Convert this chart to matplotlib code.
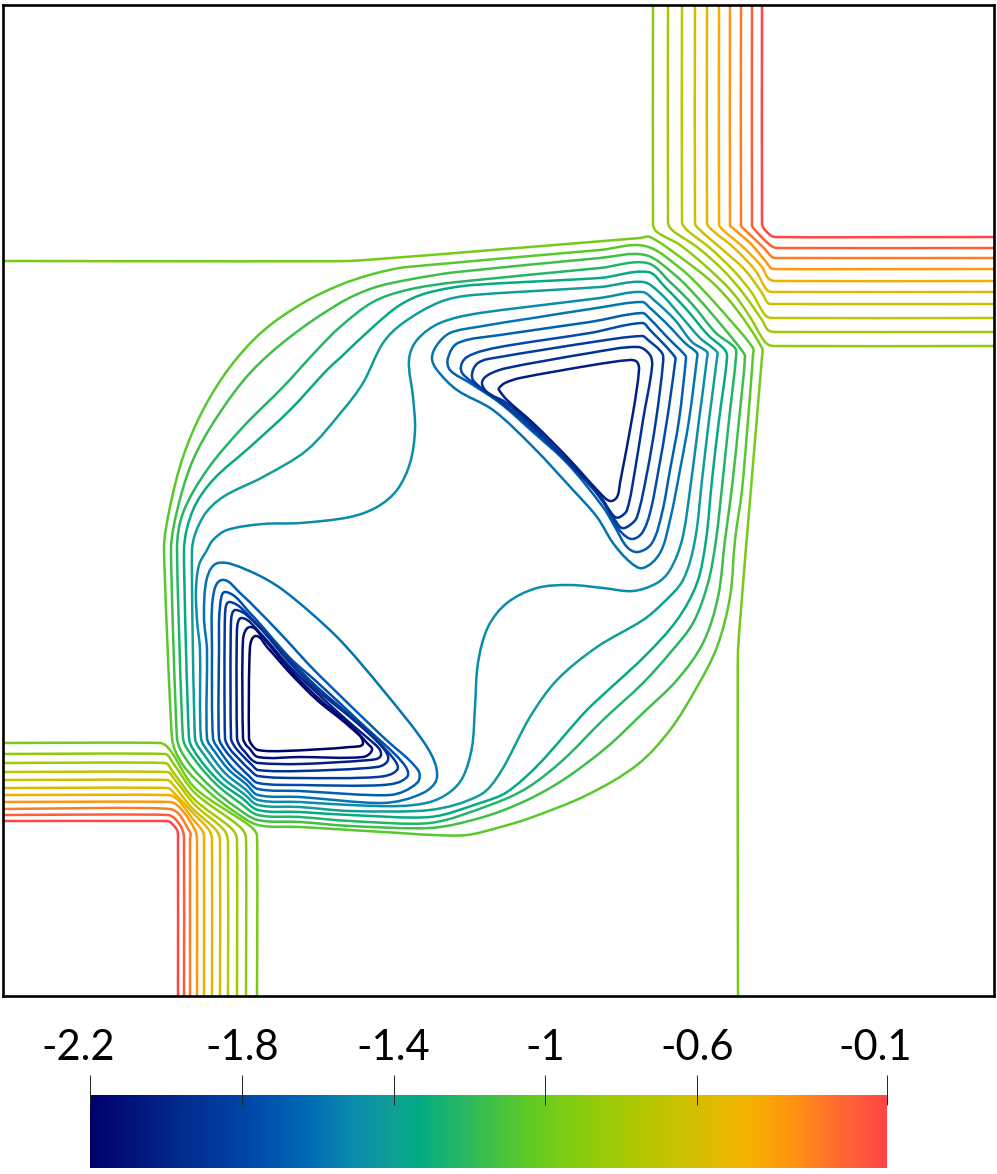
#!/usr/bin/env python

import numpy as np
import matplotlib
matplotlib.use("Agg")
import matplotlib.pyplot as plt
from matplotlib.cm import ScalarMappable
from matplotlib.colors import LinearSegmentedColormap, Normalize
from matplotlib.patches import PathPatch
from matplotlib.path import Path

# Contour levels, from the colour bar range
levels = [-0.1, -0.1875, -0.275, -0.3625, -0.45, -0.5375, -0.625, -0.7125, -0.8, -0.8875,
          -0.975, -1.0625, -1.15, -1.2375, -1.325, -1.4125, -1.5, -1.5875, -1.675, -1.7625,
          -1.85, -1.9375, -2.025, -2.1125, -2.2]

bar_ticks = [-2.2, -1.8, -1.4, -1.0, -0.6, -0.1]
bar_labels = ["-2.2", "-1.8", "-1.4", "-1", "-0.6", "-0.1"]

cmap_stops = [0.0, 0.1, 0.2, 0.27, 0.33, 0.38, 0.41, 0.47, 0.55, 0.6, 0.7, 0.78, 0.83, 0.88, 0.94, 1.0]
cmap_colors = ["#00006a", "#02268a", "#0048a8", "#0068b4", "#0a8cac", "#109f94", "#00aa85", "#2ab860",
               "#5eca25", "#80cc10", "#b5c800", "#ddbb00", "#f5b000", "#ff9510", "#ff6a30", "#ff4545"]

# Contours, as (x, y) pixels inside the frame
# Upper right corner, red outwards to green
ur_00 = [(762,5),(762,223),(765,230),(775,237),(994,237)]
ur_01 = [(752,5),(752,225),(755,230),(770,245),(777,248),(994,248)]
ur_02 = [(741,5),(741,225),(745,230),(763,247),(772,257),(777,258),(994,258)]
ur_03 = [(730,5),(730,225),(734,229),(752,245),(767,263),(773,269),(994,269)]
ur_04 = [(719,5),(719,224),(723,230),(743,247),(762,267),(768,278),(775,281),(994,281)]
ur_05 = [(707,5),(707,223),(712,230),(733,247),(755,270),(767,290),(773,292),(994,292)]
ur_06 = [(695,5),(695,223),(700,230),(723,250),(745,270),(762,293),(768,303),(774,304),(994,304)]
ur_07 = [(682,5),(682,222),(687,230),(710,248),(733,270),(752,293),(765,315),(772,318),(994,318)]
ur_08 = [(668,5),(668,222),(672,230),(697,247),(723,270),(743,293),(762,320),(768,330),(775,332),(994,332)]
ur_09 = [(653,5),(653,224),(657,232),(680,245),(710,270),(733,293),(750,317),(765,342),(773,346),(994,346)]

# Lower left corner, red outwards to green
ll_00 = [(3,821),(165,821),(170,822),(177,830),(178,837),(178,996)]
ll_01 = [(3,815),(168,815),(180,825),(184,838),(184,996)]
ll_02 = [(3,809),(170,809),(190,832),(190,840),(190,996)]
ll_03 = [(3,802),(170,802),(182,810),(195,830),(197,840),(197,996)]
ll_04 = [(3,795),(168,795),(178,800),(192,818),(203,832),(204,842),(204,996)]
ll_05 = [(3,788),(167,788),(176,795),(192,812),(209,830),(212,840),(212,996)]
ll_06 = [(3,780),(167,780),(175,787),(192,808),(216,830),(220,840),(220,996)]
ll_07 = [(3,772),(167,772),(175,780),(195,805),(224,830),(228,842),(228,996)]
ll_08 = [(3,763),(165,763),(173,772),(195,800),(232,829),(237,840),(237,996)]
ll_09 = [(3,754),(165,754),(173,763),(195,793),(240,827),(246,838),(246,996)]
ll_10 = [(3,743),(160,743),(170,750),(195,788),(250,826),(257,836),(257,996)]

# The long line from the left edge to the bottom edge
long_10 = [(3,261),(350,261),(640,238),(650,237),(680,257),(713,283),(737,310),(762,348),(762,357),
           (738,650),(738,996)]

# Closed lines round both triangles
both_11 = [(164,550),(170,507),(183,457),(203,410),(230,367),(263,331),(303,303),(340,285),(373,274),(407,267),
           (600,250),(645,246),(680,268),(703,290),(730,320),(753,348),(753,355),(748,420),(742,490),(735,540),
           (730,597),(717,647),(697,687),(670,730),(637,765),(587,795),(530,818),(497,828),(467,835),(433,835),
           (400,833),(350,830),(300,827),(258,825),(235,812),(210,793),(183,765),(172,738)]
both_12 = [(171,550),(178,507),(193,460),(217,417),(250,373),(290,337),(340,303),(373,288),(407,280),(457,272),
           (600,258),(645,255),(675,275),(697,297),(723,327),(743,352),(745,357),(739,420),(732,487),(725,540),
           (718,597),(703,643),(677,680),(643,713),(607,747),(563,780),(523,802),(480,818),(430,828),
           (350,826),(300,822),(258,820),(237,808),(213,789),(188,762),(177,738)]
both_13 = [(177,550),(183,513),(207,470),(243,427),(283,387),(317,350),(340,327),(373,302),(407,290),(457,282),
           (600,268),(647,263),(670,282),(692,304),(716,333),(735,348),(736,357),(729,420),(722,487),(716,540),
           (708,583),(693,623),(670,653),(643,683),(603,720),(563,760),(527,788),(490,805),(430,823),
           (350,821),(300,817),(258,815),(240,803),(217,785),(195,760),(183,738)]
both_14 = [(184,550),(193,510),(213,480),(250,447),(290,410),(327,370),(340,358),(373,327),(400,305),(427,293),
           (473,285),(600,278),(648,272),(665,287),(687,310),(708,335),(725,350),(727,358),(719,420),(712,480),
           (706,540),(697,583),(677,620),(643,658),(587,710),(540,763),(507,792),(480,803),(430,817),
           (350,815),(300,812),(258,810),(242,798),(220,782),(199,758),(189,738)]
both_15 = [(192,550),(203,517),(223,497),(263,477),(307,450),(343,410),(363,383),(383,343),(403,323),(440,302),
           (473,295),(600,287),(643,282),(660,293),(680,315),(700,338),(717,352),(717,358),(709,420),(702,480),
           (695,540),(683,580),(663,603),(643,620),(597,647),(557,680),(530,717),(500,773),(480,795),(430,810),
           (350,811),(300,807),(258,805),(244,794),(223,778),(205,756),(195,738)]
both_16 = [(207,550),(213,540),(227,530),(263,524),(300,523),(350,517),(377,507),(397,490),(410,463),(415,430),
           (413,397),(409,360),(417,340),(440,323),(480,313),(600,298),(642,292),(655,301),(675,320),(692,342),
           (707,352),(707,358),(699,420),(690,490),(682,540),(670,570),(657,583),(633,591),(603,588),(570,585),
           (537,588),(507,603),(488,627),(478,663),(475,707),(472,747),(463,777),(450,792),(430,802),(400,806),
           (350,805),(300,802),(258,800),(245,789),(226,774),(210,754),(201,738),(200,650),(197,620),(196,590),
           (199,565)]

# Closed lines round the upper right triangle
up_17 = [(437,370),(432,358),(437,345),(450,333),(477,327),(533,318),(597,308),(642,302),(650,308),(668,325),
         (685,343),(697,353),(697,358),(689,420),(680,470),(670,520),(660,553),(643,568),(630,562),(613,543),
         (597,517),(573,490),(533,447),(493,410),(457,390)]
up_18 = [(448,358),(458,343),(500,335),(590,322),(642,313),(650,319),(668,338),(685,355),(686,358),(679,420),
         (670,470),(662,513),(652,543),(638,552),(627,547),(615,527),(603,507),(567,463),(533,432),(500,403),
         (470,383),(450,370)]
up_19 = [(461,370),(467,357),(500,347),(590,333),(642,323),(650,330),(675,357),(675,363),(667,420),(658,473),
         (650,513),(642,533),(632,539),(622,533),(613,520),(600,497),(565,460),(533,430),(500,402),(472,382)]
up_20 = [(472,377),(478,363),(500,357),(593,342),(642,336),(648,340),(662,353),(663,363),(656,420),(647,473),
         (637,517),(630,525),(622,528),(615,520),(603,500),(590,483),(533,428),(500,401),(480,387)]
up_21 = [(482,383),(488,375),(507,368),(590,353),(638,347),(650,355),(652,367),(643,420),(635,470),(627,510),
         (620,517),(615,517),(607,507),(590,485),(533,426),(505,402),(488,393)]
up_22 = [(499,388),(505,383),(520,378),(593,365),(630,360),(637,362),(639,370),(633,413),(620,483),(617,497),
         (610,501),(600,493),(567,457),(533,423),(507,400),(499,390)]

# Closed lines round the lower left triangle
low_17 = [(218,563),(207,578),(204,617),(207,650),(207,738),(215,752),(229,770),(246,784),(258,795),(300,797),
          (383,803),(423,793),(437,777),(427,747),(383,690),(337,637),(283,590),(247,570)]
low_18 = [(222,580),(213,597),(212,650),(213,738),(220,751),(232,767),(247,780),(258,789),(300,791),(390,795),
          (417,783),(418,770),(383,737),(317,673),(277,630),(240,593)]
low_19 = [(226,592),(220,607),(219,650),(219,738),(225,750),(236,763),(248,775),(258,783),(300,785),(383,785),
          (407,777),(403,763),(363,725),(317,682),(290,658),(250,613)]
low_20 = [(230,602),(225,615),(225,738),(230,749),(239,759),(250,770),(258,776),(300,778),(377,777),(397,770),
          (393,758),(363,727),(317,687),(290,660),(253,620)]
low_21 = [(236,610),(231,622),(231,738),(235,747),(242,755),(252,765),(258,770),(300,771),(377,767),(388,760),
          (383,748),(357,723),(317,690),(290,663),(257,625)]
low_22 = [(242,618),(237,630),(237,738),(240,746),(245,752),(252,760),(258,763),(300,764),(370,760),(380,757),
          (380,750),(370,740),(350,723),(317,693),(290,667),(260,633)]
low_23 = [(250,627),(243,640),(243,738),(246,745),(249,748),(258,757),(300,757),(363,757),(372,750),(367,743),
          (350,725),(317,697),(290,670),(263,638)]
low_24 = [(256,636),(250,647),(249,738),(252,745),(258,750),(283,751),(350,747),(363,743),(350,727),(317,700),
          (290,673),(267,647)]

open_lines = [(0,ur_00),(1,ur_01),(2,ur_02),(3,ur_03),(4,ur_04),(5,ur_05),(6,ur_06),(7,ur_07),(8,ur_08),(9,ur_09),
              (0,ll_00),(1,ll_01),(2,ll_02),(3,ll_03),(4,ll_04),(5,ll_05),(6,ll_06),(7,ll_07),(8,ll_08),(9,ll_09),
              (10,ll_10),(10,long_10)]
closed_lines = [(11,both_11),(12,both_12),(13,both_13),(14,both_14),(15,both_15),(16,both_16),
                (17,up_17),(18,up_18),(19,up_19),(20,up_20),(21,up_21),(22,up_22),
                (17,low_17),(18,low_18),(19,low_19),(20,low_20),(21,low_21),(22,low_22),(23,low_23),(24,low_24)]

W, H = 997, 1174
LW = 1.8
MAX_HANDLE = 20  # px, keeps long straight stretches straight

def fig_rect(x0, y0, x1, y1):
  # pixel box of the picture -> figure fractions
  return [x0/W, (H-y1)/H, (x1-x0)/W, (y1-y0)/H]

def smooth_path(line, closed=False):
  # Bezier path through the read points, tangent along the chord of the neighbours
  pts = np.array(line + line[:1] if closed else line, dtype=float)
  n = len(pts)
  tang = np.zeros_like(pts)
  for i in range(n):
    if closed:
      prev, nxt = pts[(i-1) % (n-1)], pts[(i+1) % (n-1)]
    else:
      prev, nxt = pts[max(i-1, 0)], pts[min(i+1, n-1)]
    tang[i] = (nxt-prev) / np.hypot(*(nxt-prev))
  verts = [pts[0]]
  codes = [Path.MOVETO]
  for i in range(n-1):
    dist = min(np.hypot(*(pts[i+1]-pts[i])) / 3, MAX_HANDLE)
    verts += [pts[i]+tang[i]*dist, pts[i+1]-tang[i+1]*dist, pts[i+1]]
    codes += [Path.CURVE4]*3
  return Path(verts, codes)

def main():
  cmap = LinearSegmentedColormap.from_list("bar", list(zip(cmap_stops, cmap_colors)))
  norm = Normalize(levels[-1], levels[0])

  fig = plt.figure(figsize=(W/100, H/100), dpi=100)
  ax = fig.add_axes(fig_rect(3, 5, 994, 996))
  ax.set_xlim(3, 994)
  ax.set_ylim(996, 5)
  ax.set_xticks([])
  ax.set_yticks([])
  for spine in ax.spines.values():
    spine.set_linewidth(1.9)
    spine.set_zorder(5)

  for idx, line in open_lines:
    ax.add_patch(PathPatch(smooth_path(line), fc="none", ec=cmap(norm(levels[idx])), lw=LW))
  for idx, line in closed_lines:
    ax.add_patch(PathPatch(smooth_path(line, closed=True), fc="none", ec=cmap(norm(levels[idx])), lw=LW))

  # Colour bar
  cax = fig.add_axes(fig_rect(90, 1095, 887, 1168))
  cbar = fig.colorbar(ScalarMappable(norm=norm, cmap=cmap), cax=cax, orientation="horizontal")
  cbar.outline.set_visible(False)
  cbar.set_ticks(bar_ticks)
  cax.tick_params(axis="x", length=0, labeltop=False, labelbottom=False)

  blend = cax.get_xaxis_transform()
  cax.vlines(bar_ticks, 0.863, 1.274, color="#222222", lw=0.7, transform=blend, clip_on=False, zorder=5)

  for val, lab in zip(bar_ticks, bar_labels):
    # the end labels sit a little to the left of their ticks
    shift = -8.6 if lab in ("-2.2", "-0.1") else 0
    cax.annotate(lab, (val, 1.0), xycoords=blend, xytext=(shift, 25), textcoords="offset points",
                 ha="center", va="baseline", fontsize=30, family="Lato", color="black")

  fig.savefig("out.png", dpi=100)

if __name__ == "__main__":
  main()
